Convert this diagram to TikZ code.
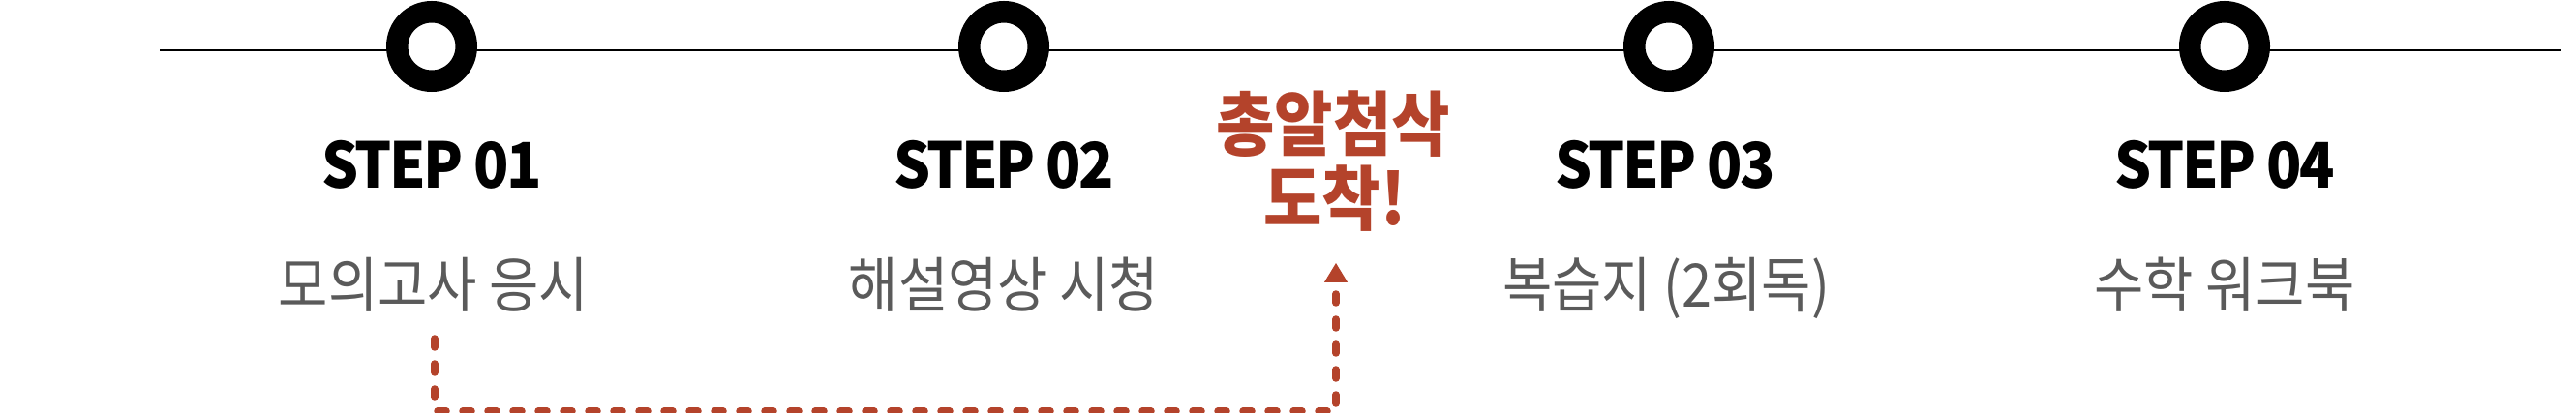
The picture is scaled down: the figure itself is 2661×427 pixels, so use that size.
\documentclass[tikz,border=0pt]{standalone}
\usepackage{fontspec}
\usetikzlibrary{arrows.meta}
\newfontfamily\stepfont{Noto Sans CJK KR}[FakeStretch=0.92, LetterSpace=-4]
\newfontfamily\krfont{Noto Sans CJK KR}[FakeStretch=0.9]
\newfontfamily\krredfont{Noto Sans CJK KR}[FakeStretch=0.9]
\definecolor{rust}{HTML}{B4432B}
\definecolor{graytxt}{HTML}{5A5A5A}
\tikzset{
  ring/.style={circle, draw=black, fill=white, line width=22.5pt, minimum size=71.5pt, inner sep=0pt},
  steplabel/.style={anchor=base, inner sep=0pt, font=\stepfont\bfseries\fontsize{65}{70}\selectfont, text=black},
  desclabel/.style={anchor=base, inner sep=0pt, font=\krfont\fontsize{62}{68}\selectfont, text=graytxt},
  redlabel/.style={anchor=base, inner sep=0pt, font=\krredfont\bfseries\fontsize{73}{79}\selectfont, text=rust},
  timeline/.style={line width=2.5pt, black},
  feedback/.style={rust, line width=7.5pt, line cap=round, dash pattern=on 9pt off 17pt}
}
\begin{document}
\begin{tikzpicture}[x=1pt, y=-1pt]
\useasboundingbox (0,0) rectangle (2661,427);
% timeline
\coordinate (tlL) at (165,52);
\coordinate (tlR) at (2645,52);
\draw[timeline] (tlL) -- (tlR);
% rings
\node[ring] (c1) at (446,48) {};
\node[ring] (c2) at (1037,48) {};
\node[ring] (c3) at (1724,48) {};
\node[ring] (c4) at (2298,48) {};
% step labels
\node[steplabel] (s1) at (446,195) {STEP 01};
\node[steplabel] (s2) at (1037,195) {STEP 02};
\node[steplabel] (s3) at (1720,195) {STEP 03};
\node[steplabel] (s4) at (2298,195) {STEP 04};
% descriptions
\node[desclabel] (d1) at (448,318) {모의고사 응시};
\node[desclabel] (d2) at (1037,318) {해설영상 시청};
\node[desclabel] (d3) at (1721,318) {복습지 (2회독)};
\node[desclabel] (d4) at (2298,318) {수학 워크북};
% red label
\node[redlabel] (r1) at (1377,156) {총알첨삭};
\node[redlabel] (r2) at (1379,233) {도착!};
% feedback arrow
\coordinate (fbS) at (449,350);
\coordinate (fbT) at (1380,272);
\draw[feedback] (fbS) -- (fbS |- 0,425) -- (fbT |- 0,425) -- ([yshift=-24pt]fbT);
\draw[rust, line width=1pt, -{Triangle[width=24pt,length=20pt]}] ([yshift=-19pt]fbT) -- (fbT);
\end{tikzpicture}
\end{document}
